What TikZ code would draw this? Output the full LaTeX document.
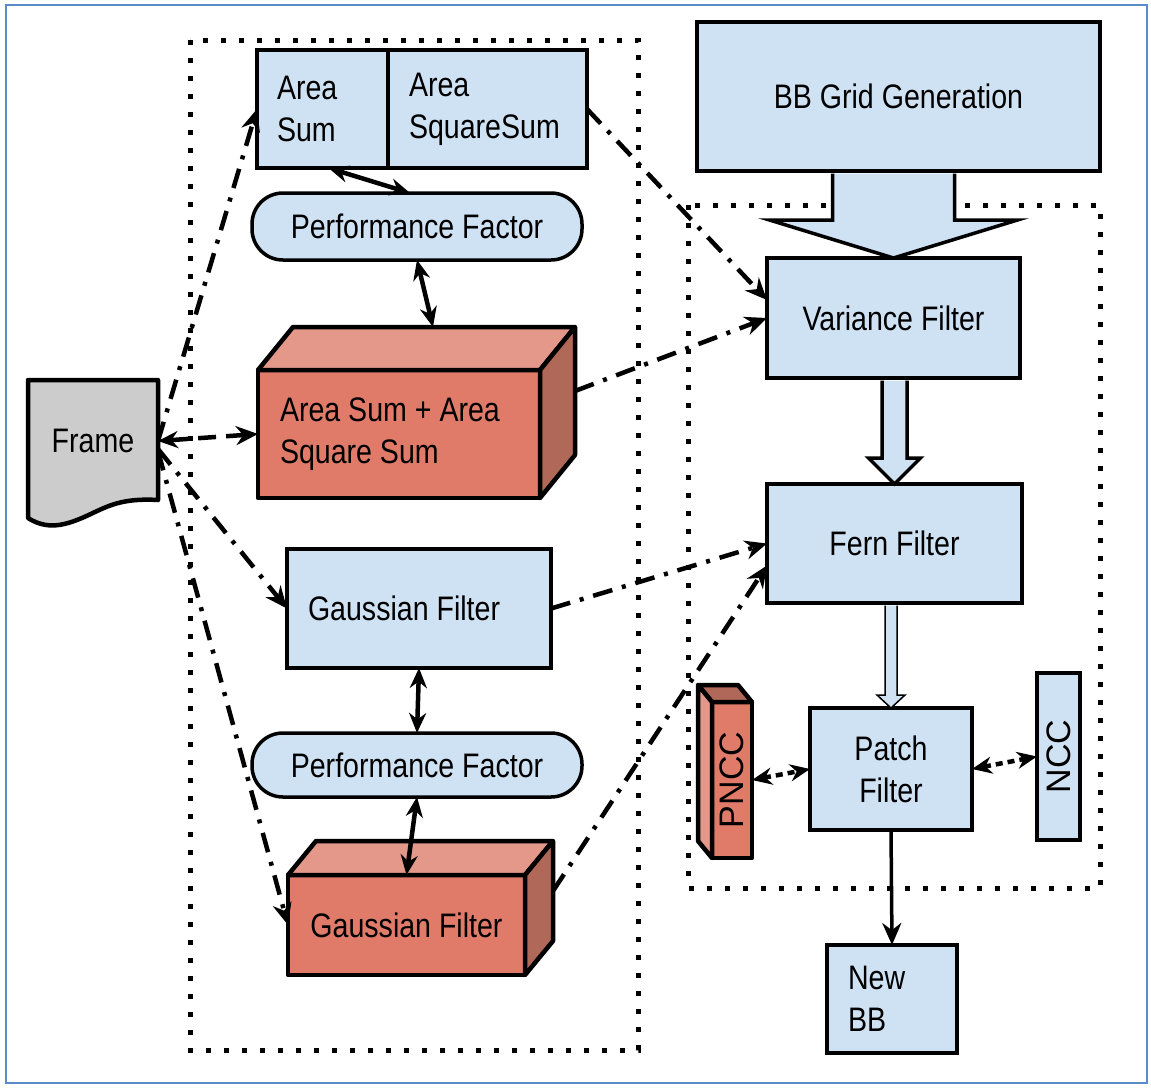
\documentclass[tikz,border=0pt]{standalone}
\usepackage{fontspec}
\setmainfont{Liberation Sans}[FakeStretch=0.84]
\newfontfamily\rotfont{Liberation Sans}
\usetikzlibrary{arrows.meta,calc,backgrounds}

\definecolor{boxblue}{RGB}{207,226,243}
\definecolor{redmid}{RGB}{224,123,106}
\definecolor{redlight}{RGB}{228,152,138}
\definecolor{reddark}{RGB}{176,104,88}
\definecolor{framegray}{RGB}{204,204,204}
\definecolor{borderblue}{RGB}{91,139,204}

\newcommand\lbl{\fontsize{34}{42}\selectfont}

\begin{document}
\begin{tikzpicture}[x=1pt,y=-1pt,
  every node/.style={font=\lbl, inner sep=0pt, outer sep=0pt, text=black},
  bluebox/.style={draw, line width=4.8pt, fill=boxblue},
  redfront/.style={draw, line width=4.5pt, fill=redmid, line join=round},
  cubeface/.style={draw, line width=4.5pt, line join=round},
  pfbox/.style={draw, line width=3.5pt, fill=boxblue, rounded corners=31pt},
  dotbox/.style={line width=5pt, dash pattern=on 5pt off 13pt},
  tip/.style={-{Stealth[length=22pt,width=19pt]}},
  dashdot/.style={line width=4.5pt, dash pattern=on 20pt off 10pt on 4pt off 10pt, tip},
  dashline/.style={line width=4.5pt, dash pattern=on 18pt off 10pt},
  twoway/.style={line width=4.5pt, {Stealth[length=20pt,width=17pt]}-{Stealth[length=20pt,width=17pt]}},
  shortway/.style={line width=4.5pt, dash pattern=on 7pt off 5pt, {Stealth[length=20pt,width=17pt]}-{Stealth[length=20pt,width=17pt]}},
  blockarr/.style={draw, line width=3.5pt, fill=boxblue, line join=miter}]

\useasboundingbox (0,0) rectangle (1151,1087);
\draw[borderblue, line width=2pt] (6,5) rectangle (1147,1083);

% dotted groups
\draw[dotbox] (190,40) rectangle (638,1050);
\draw[dotbox] (688,205) rectangle (1100,888);

% left column
\node[bluebox, minimum width=131pt, minimum height=118pt, text width=91pt, align=flush left] (areasum) at (322.5,109) {Area\\Sum};
\node[bluebox, minimum width=199pt, minimum height=118pt, text width=157pt, align=flush left] (areasq) at (487.5,109) {Area\\SquareSum};
\node[pfbox, minimum width=330pt, minimum height=67pt] (pf1) at (417,226.5) {Performance Factor};
\node[redfront, minimum width=282pt, minimum height=128pt, text width=238pt, align=flush left] (cube1) at (399,434) {Area Sum + Area\\Square Sum};
\draw[cubeface, fill=redlight] (cube1.north west) -- ++(35,-43) -- ($(cube1.north east)+(35,-43)$) -- (cube1.north east) -- cycle;
\draw[cubeface, fill=reddark] (cube1.north east) -- ++(35,-43) -- ($(cube1.south east)+(35,-43)$) -- (cube1.south east) -- cycle;

\node[bluebox, minimum width=264pt, minimum height=119pt, text width=222pt, align=flush left] (gauss) at (419,608.5) {Gaussian Filter};
\node[pfbox, minimum width=330pt, minimum height=64pt] (pf2) at (417,765) {Performance Factor};
\node[redfront, minimum width=237pt, minimum height=100pt] (cube2) at (406.5,925) {Gaussian Filter};
\draw[cubeface, fill=redlight] (cube2.north west) -- ++(28,-34) -- ($(cube2.north east)+(28,-34)$) -- (cube2.north east) -- cycle;
\draw[cubeface, fill=reddark] (cube2.north east) -- ++(28,-34) -- ($(cube2.south east)+(28,-34)$) -- (cube2.south east) -- cycle;

% input frame (document shape)
\node[minimum width=130pt, minimum height=122pt] (frame) at (93,441) {Frame};
\begin{scope}[on background layer]
\draw[line width=4.5pt, fill=framegray, line join=round]
  (frame.north west) -- (frame.north east) -- ($(frame.south east)+(0,-2)$)
  .. controls ($(frame.south west)+(97,-4)$) and ($(frame.south west)+(82,3)$) .. ($(frame.south west)+(67,10)$)
  .. controls ($(frame.south west)+(42,22)$) and ($(frame.south west)+(22,30)$) .. ($(frame.south west)+(0,16)$)
  -- cycle;
\end{scope}

% right column
\node[bluebox, minimum width=403pt, minimum height=149pt] (bb) at (898.5,96.5) {BB Grid Generation};
\node[bluebox, minimum width=253pt, minimum height=120pt] (var) at (893.5,318) {Variance Filter};
\node[bluebox, minimum width=255pt, minimum height=119pt] (fern) at (894.5,543.5) {Fern Filter};
\node[bluebox, minimum width=162pt, minimum height=122pt, align=center] (patch) at (891,769) {Patch\\Filter};
\node[bluebox, minimum width=130pt, minimum height=108pt, text width=88pt, align=flush left] (newbb) at (892,999) {New\\BB};
\node[redfront, line width=4.8pt, minimum width=40pt, minimum height=156pt] (pncc) at (732,780) {\rotatebox{90}{\rotfont PNCC}};
\draw[cubeface, fill=reddark] (pncc.north west) -- ++(-14,-17) -- ($(pncc.north east)+(-14,-17)$) -- (pncc.north east) -- cycle;
\draw[cubeface, fill=redlight] (pncc.north west) -- ++(-14,-17) -- ($(pncc.south west)+(-14,-17)$) -- (pncc.south west) -- cycle;
\node[bluebox, minimum width=43pt, minimum height=167pt] (ncc) at (1058.5,756.5) {\rotatebox{90}{\rotfont NCC}};

% block arrows between filter stages
\draw[blockarr] ($(var.north |- bb.south)+(-61,2.5)$) -- ($(var.north)+(-61,-38)$) -- ($(var.north)+(-124,-38)$)
  -- (var.north) -- ($(var.north)+(124,-38)$) -- ($(var.north)+(61,-38)$) -- ($(var.north |- bb.south)+(61,2.5)$);
\draw[blockarr] ($(fern.north |- var.south)+(-12.5,2.5)$) -- ($(fern.north)+(-12.5,-26)$) -- ($(fern.north)+(-26,-26)$)
  -- (fern.north) -- ($(fern.north)+(26,-26)$) -- ($(fern.north)+(12.5,-26)$) -- ($(fern.north |- var.south)+(12.5,2.5)$);
\draw[blockarr, line width=1.5pt] ($(patch.north |- fern.south)+(-6,2.5)$) -- ($(patch.north)+(-6,-13)$) -- ($(patch.north)+(-14,-13)$)
  -- (patch.north) -- ($(patch.north)+(14,-13)$) -- ($(patch.north)+(6,-13)$) -- ($(patch.north |- fern.south)+(6,2.5)$);

% data flow from the frame
\draw[dashdot] (frame.east) -- (areasum.west);
\draw[dashline, {Stealth[length=20pt,width=17pt]}-{Stealth[length=22pt,width=19pt]}] (frame.east) -- (cube1.west);
\draw[dashdot] ($(frame.east)+(0,8)$) -- (gauss.west);
\draw[dashdot] ($(frame.east)+(0,10)$) -- (cube2.west);

% results into the detector cascade
\draw[dashdot] (areasq.east) -- ($(var.west)+(0,-18)$);
\draw[dashdot] ($(cube1.east)+(35,-43)$) -- (var.west);
\draw[dashdot] (gauss.east) -- (fern.west);
\draw[dashdot] ($(cube2.east)+(28,-34)$) -- ($(fern.west)+(0,22)$);

% performance factor links
\draw[twoway] ($(areasum.south)+(6,0)$) -- ($(pf1.north)+(-7,0)$);
\draw[twoway] (pf1.south) -- ($(cube1.north)+(34,-43)$);
\draw[twoway] (gauss.south) -- (pf2.north);
\draw[twoway] (pf2.south) -- (cube2.north);

% patch filter neighbours and output
\draw[shortway] (pncc.east) -- (patch.west);
\draw[shortway] (patch.east) -- (ncc.west);
\draw[line width=3.5pt, tip] (patch.south) -- (newbb.north);
\end{tikzpicture}
\end{document}
